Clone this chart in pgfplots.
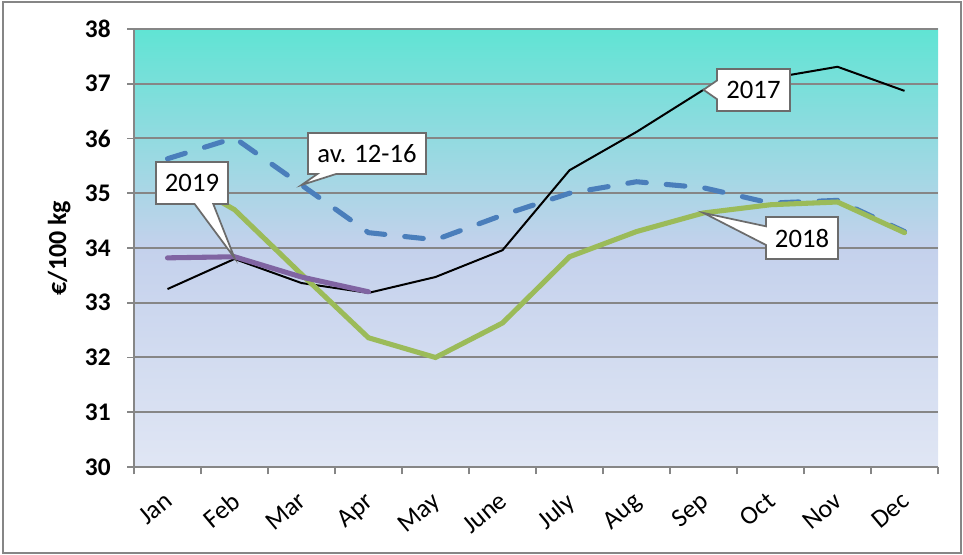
\documentclass[border=0pt]{standalone}
\usepackage{pgfplots}
\pgfplotsset{compat=1.18}
\usepackage{fontspec}
\setmainfont{Carlito}
\usetikzlibrary{shapes.callouts}
\definecolor{gridgray}{HTML}{868686}
\definecolor{bgtop}{HTML}{60E4D4}
\definecolor{bgmid}{HTML}{C4D1EC}
\definecolor{bgbot}{HTML}{E0E6F4}
\definecolor{avblue}{HTML}{4A7EBB}
\definecolor{lgreen}{HTML}{9BBB59}
\definecolor{lpurple}{HTML}{8064A2}
\begin{document}
\begin{tikzpicture}
\useasboundingbox (0,0) rectangle (722.25pt,416.25pt);
\draw[gridgray, line width=1.5pt] (2.25pt,1.5pt) rectangle (720.75pt,414.75pt);
\begin{axis}[
  at={(100.5pt,66pt)}, anchor=south west,
  scale only axis, width=603pt, height=328.5pt,
  xmin=-0.5, xmax=11.5, ymin=30, ymax=38,
  ytick={30,31,...,38},
  xtick={0,...,11},
  xticklabels={Jan,Feb,Mar,Apr,May,June,July,Aug,Sep,Oct,Nov,Dec},
  minor xtick={-0.5,0.5,...,11.5},
  major x tick style={draw=none},
  minor tick length=5.5pt,
  major tick length=5pt,
  minor x tick style={gridgray, line width=1.2pt},
  ytick style={gridgray, line width=1.2pt},
  tick align=outside,
  ymajorgrids, grid style={gridgray, line width=1.5pt},
  axis x line*=bottom, axis y line*=left,
  axis line style={gridgray, line width=1.5pt, -},
  axis background/.style={shade, top color=bgtop, bottom color=bgbot, middle color=bgmid},
  /pgf/number format/assume math mode=true,
  yticklabel style={font=\fontsize{19}{21}\selectfont\bfseries, xshift=-9pt},
  xticklabel style={font=\fontsize{19.5}{21}\selectfont, xshift=-3pt, yshift=-8pt, rotate=40, anchor=north east},
  ylabel={€/100 kg},
  ylabel style={font=\fontsize{19.5}{21}\selectfont\bfseries, at={(axis description cs:-0.093,0.5)}, anchor=center},
  clip=false,
]
\addplot[avblue, line width=3.8pt, dash pattern=on 14pt off 15pt, line cap=round] coordinates {
(0,35.63) (1,36.01) (2,35.15) (3,34.28) (4,34.15) (5,34.60) (6,35.00) (7,35.21) (8,35.10) (9,34.82) (10,34.87) (11,34.30)};
\addplot[black, line width=1.5pt] coordinates {
(0,33.25) (1,33.80) (2,33.36) (3,33.18) (4,33.47) (5,33.96) (6,35.42) (7,36.12) (8,36.89) (9,37.10) (10,37.31) (11,36.87)};
\addplot[lgreen, line width=3.8pt, line cap=round] coordinates {
(0,35.40) (1,34.70) (2,33.52) (3,32.36) (4,32.00) (5,32.63) (6,33.84) (7,34.30) (8,34.64) (9,34.79) (10,34.84) (11,34.28)};
\addplot[lpurple, line width=3.8pt, line cap=round] coordinates {
(0,33.82) (1,33.84) (2,33.47) (3,33.20)};
\coordinate (p2019) at (axis cs:1,33.82);
\coordinate (pav) at (axis cs:2,35.15);
\coordinate (p2017) at (axis cs:8,36.89);
\coordinate (p2018) at (axis cs:8,34.64);
\end{axis}
\tikzset{lbl/.style={rectangle callout, fill=white, draw=gray!85!black, line width=1.3pt, inner sep=0pt, font=\fontsize{20}{22}\selectfont, callout pointer width=14pt}}
\node[lbl, minimum width=54pt, minimum height=31.5pt, callout absolute pointer={(p2019)}] at (144pt,279pt) {2019};
\node[lbl, minimum width=88.5pt, minimum height=30.75pt, callout absolute pointer={(pav)}] at (275.25pt,301.1pt) {av. 12-16};
\node[lbl, minimum width=54.75pt, minimum height=31.5pt, callout absolute pointer={(p2017)}] at (565.1pt,348.75pt) {2017};
\node[lbl, minimum width=54pt, minimum height=31.5pt, callout absolute pointer={(p2018)}] at (601.5pt,237.75pt) {2018};
\end{tikzpicture}
\end{document}
